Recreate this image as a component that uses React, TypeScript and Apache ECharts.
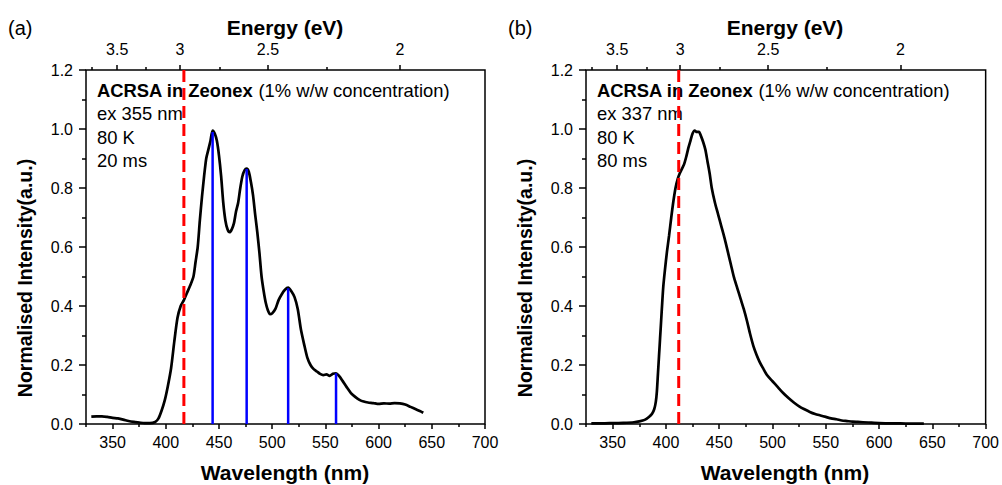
import React, { useEffect, useRef } from "react";
import * as echarts from "echarts";

const FONT = 'Arial, "Liberation Sans", Helvetica, sans-serif';

// Axis ticks
const wavelengthTicks = [350, 400, 450, 500, 550, 600, 650, 700];
const wavelengthMinorTicks = [325, 375, 425, 475, 525, 575, 625, 675];
const energyTicks = [3.5, 3, 2.5, 2];
const energyMinorTicks = [3.75, 3.25, 2.75, 2.25];

// Panel (a): ACRSA in Zeonex, ex 355 nm, 80 K, 20 ms  [wavelength nm, normalised intensity]
const spectrumA: [number, number][] = [
  [330, 0.025], [335, 0.026], [340, 0.026], [345, 0.024], [350, 0.021], [355, 0.019],
  [360, 0.015], [365, 0.01], [370, 0.007], [375, 0.005], [380, 0.003], [385, 0.003],
  [390, 0.007], [393, 0.018], [396, 0.045], [399, 0.08], [402, 0.13], [405, 0.19],
  [408, 0.28], [411, 0.36], [414, 0.4], [417, 0.42], [420, 0.445], [423, 0.47],
  [426, 0.5], [428, 0.55], [430, 0.6], [432, 0.69], [434, 0.77], [436, 0.84],
  [438, 0.9], [440, 0.93], [442, 0.96], [444, 0.995], [446, 0.985], [448, 0.96],
  [450, 0.91], [452, 0.84], [454, 0.75], [456, 0.69], [458, 0.66], [460, 0.65],
  [462, 0.66], [464, 0.68], [466, 0.72], [468, 0.75], [470, 0.8], [472, 0.84],
  [474, 0.86], [476, 0.866], [478, 0.855], [480, 0.82], [482, 0.775], [484, 0.71],
  [486, 0.65], [488, 0.58], [490, 0.5], [492, 0.45], [494, 0.41], [496, 0.385],
  [498, 0.372], [500, 0.375], [503, 0.39], [506, 0.42], [509, 0.44], [512, 0.455],
  [515, 0.462], [518, 0.45], [521, 0.43], [524, 0.39], [527, 0.32], [530, 0.27],
  [533, 0.225], [536, 0.2], [539, 0.186], [542, 0.178], [545, 0.17], [548, 0.166],
  [551, 0.168], [554, 0.163], [557, 0.17], [560, 0.172], [563, 0.162], [566, 0.147],
  [570, 0.125], [574, 0.105], [578, 0.092], [582, 0.082], [586, 0.076], [590, 0.073],
  [595, 0.071], [600, 0.068], [605, 0.07], [610, 0.069], [615, 0.071], [620, 0.07],
  [625, 0.066], [630, 0.058], [635, 0.05], [640, 0.042], [642, 0.038],
];
const peaksA: [number, number][] = [[444, 0.99], [476, 0.864], [515, 0.46], [560, 0.172]];
const cutA = 417;
const notesA = ["ex 355 nm", "80 K", "20 ms"];

// Panel (b): ACRSA in Zeonex, ex 337 nm, 80 K, 80 ms
const spectrumB: [number, number][] = [
  [330, 0.002], [340, 0.002], [350, 0.003], [360, 0.004], [370, 0.006], [375, 0.009],
  [380, 0.014], [384, 0.024], [387, 0.035], [389, 0.05], [390.5, 0.075], [391.5, 0.11],
  [392.5, 0.17], [393.5, 0.23], [394.5, 0.29], [395.5, 0.35], [396.5, 0.41], [397.5, 0.465],
  [399, 0.52], [401, 0.585], [403, 0.64], [405, 0.7], [407, 0.755], [409, 0.8],
  [411, 0.83], [413, 0.85], [415, 0.865], [417, 0.88], [419, 0.905], [421, 0.935],
  [423, 0.96], [425, 0.985], [427, 0.995], [429, 0.99], [431, 0.99], [433, 0.975],
  [435, 0.955], [437, 0.93], [439, 0.89], [441, 0.85], [443, 0.8], [446, 0.75],
  [449, 0.71], [452, 0.67], [455, 0.63], [458, 0.585], [461, 0.54], [464, 0.495],
  [467, 0.46], [470, 0.425], [473, 0.39], [476, 0.35], [479, 0.305], [482, 0.265],
  [485, 0.235], [488, 0.21], [491, 0.19], [495, 0.165], [500, 0.145], [505, 0.125],
  [510, 0.105], [515, 0.088], [520, 0.073], [525, 0.06], [530, 0.05], [535, 0.041],
  [540, 0.034], [545, 0.029], [550, 0.024], [555, 0.019], [560, 0.016], [565, 0.012],
  [570, 0.01], [575, 0.008], [580, 0.007], [590, 0.005], [600, 0.003], [610, 0.002],
  [620, 0.002], [630, 0.001], [642, 0.001],
];
const peaksB: [number, number][] = [];
const cutB = 412;
const notesB = ["ex 337 nm", "80 K", "80 ms"];

const panels = [
  { label: "(a)", spectrum: spectrumA, peaks: peaksA, cut: cutA, notes: notesA },
  { label: "(b)", spectrum: spectrumB, peaks: peaksB, cut: cutB, notes: notesB },
];

const layout = [
  { left: 86, top: 70, width: 399, height: 354 },
  { left: 586, top: 70, width: 400, height: 354 },
];

const fmtE = (v: number) => String(Math.round((1240 / v) * 100) / 100);

export default function App() {
  const ref = useRef<HTMLDivElement>(null);
  useEffect(() => {
    if (!ref.current) return;
    const chart = echarts.init(ref.current, undefined, { renderer: "svg" });
    const tickLine = { color: "#000", width: 1.5 };
    const grids: any[] = [];
    const xAxes: any[] = [];
    const yAxes: any[] = [];
    const series: any[] = [];
    const graphics: any[] = [];

    panels.forEach((p, i) => {
      const g = layout[i];
      grids.push({ ...g, show: true, borderColor: "#000", borderWidth: 1.5, backgroundColor: "transparent" });
      const baseX = {
        gridIndex: i, type: "value", min: 325, max: 700,
        axisLine: { show: false }, splitLine: { show: false },
      };
      xAxes.push({
        ...baseX, position: "bottom",
        axisTick: { show: true, customValues: wavelengthTicks, length: 5, lineStyle: tickLine },
        axisLabel: { customValues: wavelengthTicks, fontSize: 16, color: "#000", fontFamily: FONT, margin: 10 },
      });
      xAxes.push({
        ...baseX, position: "bottom",
        axisTick: { show: true, customValues: wavelengthMinorTicks, length: 3, lineStyle: tickLine },
        axisLabel: { show: false },
      });
      const eMajor = energyTicks.map((e) => 1240 / e);
      const eMinor = energyMinorTicks.map((e) => 1240 / e);
      xAxes.push({
        ...baseX, position: "top",
        axisTick: { show: true, customValues: eMajor, length: 5, lineStyle: tickLine },
        axisLabel: { customValues: eMajor, formatter: fmtE, fontSize: 16, color: "#000", fontFamily: FONT, margin: 13 },
      });
      xAxes.push({
        ...baseX, position: "top",
        axisTick: { show: true, customValues: eMinor, length: 3, lineStyle: tickLine },
        axisLabel: { show: false },
      });
      yAxes.push({
        gridIndex: i, type: "value", min: 0, max: 1.2, interval: 0.2, position: "left",
        axisLine: { show: false }, splitLine: { show: false },
        axisTick: { show: true, length: 7, lineStyle: tickLine },
        minorTick: { show: true, splitNumber: 2, length: 4, lineStyle: tickLine },
        minorSplitLine: { show: false },
        axisLabel: { formatter: (v: number) => v.toFixed(1), fontSize: 16, color: "#000", fontFamily: FONT, margin: 13 },
      });

      const xi = i * 4;
      series.push({
        type: "line", xAxisIndex: xi, yAxisIndex: i, data: p.spectrum,
        showSymbol: false, smooth: 0.25, z: 3,
        lineStyle: { color: "#000", width: 2.7 },
      });
      p.peaks.forEach((pk) => {
        series.push({
          type: "line", xAxisIndex: xi, yAxisIndex: i,
          data: [[pk[0], 0], [pk[0], pk[1]]],
          showSymbol: false, z: 4,
          lineStyle: { color: "#0000ff", width: 2.5 },
        });
      });
      series.push({
        type: "line", xAxisIndex: xi, yAxisIndex: i,
        data: [[p.cut, 0], [p.cut, 1.2]],
        showSymbol: false, z: 6,
        lineStyle: { color: "#ff0000", width: 3, type: [12, 6] },
      });

      const ox = i * 500;
      graphics.push({
        type: "text", x: 8 + ox, y: 28, z: 1,
        style: { text: p.label, fontSize: 20, fontFamily: FONT, fill: "#000", align: "left", verticalAlign: "middle" },
      });
      graphics.push({
        type: "text", x: 285 + ox, y: 27, z: 1,
        style: { text: "Energy (eV)", fontSize: 21, fontWeight: "bold", fontFamily: FONT, fill: "#000", align: "center", verticalAlign: "middle" },
      });
      graphics.push({
        type: "text", x: 285 + ox, y: 472, z: 1,
        style: { text: "Wavelength (nm)", fontSize: 21, fontWeight: "bold", fontFamily: FONT, fill: "#000", align: "center", verticalAlign: "middle" },
      });
      graphics.push({
        type: "text", x: 25 + ox, y: 278, z: 1, rotation: Math.PI / 2,
        style: { text: "Normalised Intensity(a.u.)", fontSize: 19.5, fontWeight: "bold", fontFamily: FONT, fill: "#000", align: "center", verticalAlign: "middle" },
      });
      graphics.push({
        type: "text", x: 97 + ox, y: 90, z: 1,
        style: {
          text: "{b|ACRSA in Zeonex} {r|(1% w/w concentration)}",
          rich: {
            b: { fontSize: 18.4, fontWeight: "bold", fontFamily: FONT, fill: "#000" },
            r: { fontSize: 18.4, fontFamily: FONT, fill: "#000" },
          },
          fontSize: 18.4, fontFamily: FONT, fill: "#000", align: "left", verticalAlign: "middle",
        },
      });
      p.notes.forEach((n, k) => {
        graphics.push({
          type: "text", x: 97 + ox, y: 113.5 + k * 23.5, z: 1,
          style: { text: n, fontSize: 18.4, fontFamily: FONT, fill: "#000", align: "left", verticalAlign: "middle" },
        });
      });
    });

    chart.setOption({
      animation: false,
      backgroundColor: "#fff",
      textStyle: { fontFamily: FONT },
      grid: grids,
      xAxis: xAxes,
      yAxis: yAxes,
      series,
      graphic: { elements: graphics },
    });
    return () => chart.dispose();
  }, []);
  return <div ref={ref} style={{ position: "fixed", left: 0, top: 0, width: 1002, height: 485 }} />;
}
